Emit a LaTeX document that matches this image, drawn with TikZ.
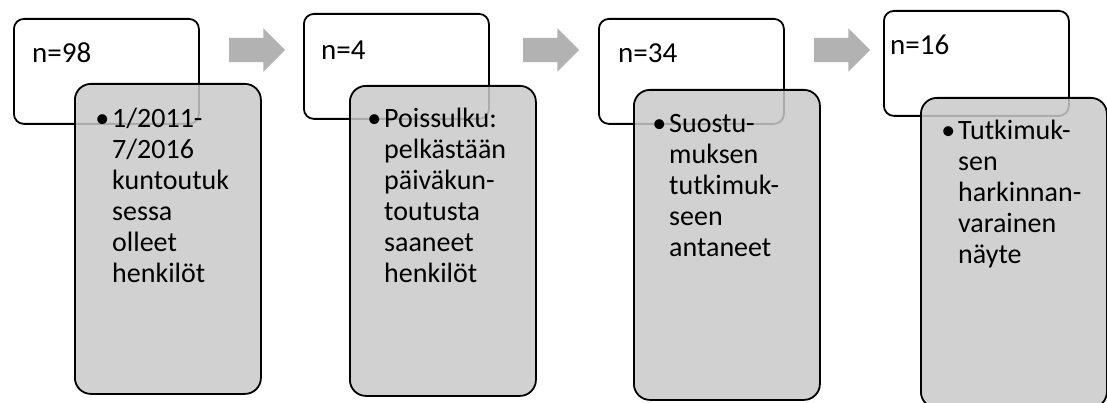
\documentclass[tikz,border=0pt]{standalone}
\usepackage{fontspec}
\setmainfont{Carlito}
\usetikzlibrary{shapes.arrows}
\definecolor{boxgray}{gray}{0.79}
\definecolor{arrowgray}{gray}{0.70}
\newcommand{\boxlines}[1]{\begin{tabular}[t]{@{}l@{}}#1\end{tabular}}
\newcommand{\dotmark}{\llap{\textbullet\hspace{3pt}}}
\tikzset{
  countbox/.style={draw=black,line width=1.8pt,fill=white,rounded corners=10pt,
    minimum width=185pt,minimum height=105pt,inner sep=0pt,anchor=north west},
  notebox/.style={draw=black,line width=1.8pt,fill=boxgray,fill opacity=0.85,rounded corners=16pt,
    minimum width=186pt,minimum height=310pt,inner sep=0pt,anchor=north west},
  stagearrow/.style={single arrow,fill=arrowgray,draw=none,minimum height=56pt,
    inner xsep=0pt,inner ysep=12pt,single arrow head extend=9.5pt,single arrow head indent=0pt},
  countlabel/.style={anchor=base west,inner sep=0pt,font=\fontsize{29}{33}\selectfont},
  notelabel/.style={anchor=base west,inner sep=0pt,font=\fontsize{28}{31}\selectfont}
}
\begin{document}
\begin{tikzpicture}[x=1pt,y=-1pt]
            \useasboundingbox (0,0) rectangle (1107,403);
            \clip (0,0) rectangle (1107,403);
            \node[countbox] (w1) at (13,18) {};
            \node[notebox]  (g1) at (74,83) {};
            \node[countbox] (w2) at (303,13) {};
            \node[notebox]  (g2) at (349,85) {};
            \node[countbox] (w3) at (598,18) {};
            \node[notebox]  (g3) at (633,89) {};
            \node[countbox] (w4) at (883,10) {};
            \node[notebox]  (g4) at (920,97) {};
            \node[stagearrow] (a1) at (251,50) {};
            \node[stagearrow] (a2) at (545,50) {};
            \node[stagearrow] (a3) at (836,50) {};
            \node[countlabel] (n1) at (32,63) {n=98};
            \node[countlabel] (n2) at (321,60) {n=4};
            \node[countlabel] (n3) at (618,63) {n=34};
            \node[countlabel] (n4) at (890,55) {n=16};
            \node[notelabel] (t1) at (112,128)
                {\boxlines{\dotmark1/2011-\\7/2016\\kuntoutuk\\sessa\\olleet\\henkilöt}};
            \node[notelabel] (t2) at (384,128)
                {\boxlines{\dotmark Poissulku:\\pelkästään\\päiväkun-\\toutusta\\saaneet\\henkilöt}};
            \node[notelabel] (t3) at (669,133)
                {\boxlines{\dotmark Suostu-\\muksen\\tutkimuk-\\seen\\antaneet}};
            \node[notelabel] (t4) at (958,140)
                {\boxlines{\dotmark Tutkimuk-\\sen\\harkinnan-\\varainen\\näyte}};
\end{tikzpicture}
\end{document}
